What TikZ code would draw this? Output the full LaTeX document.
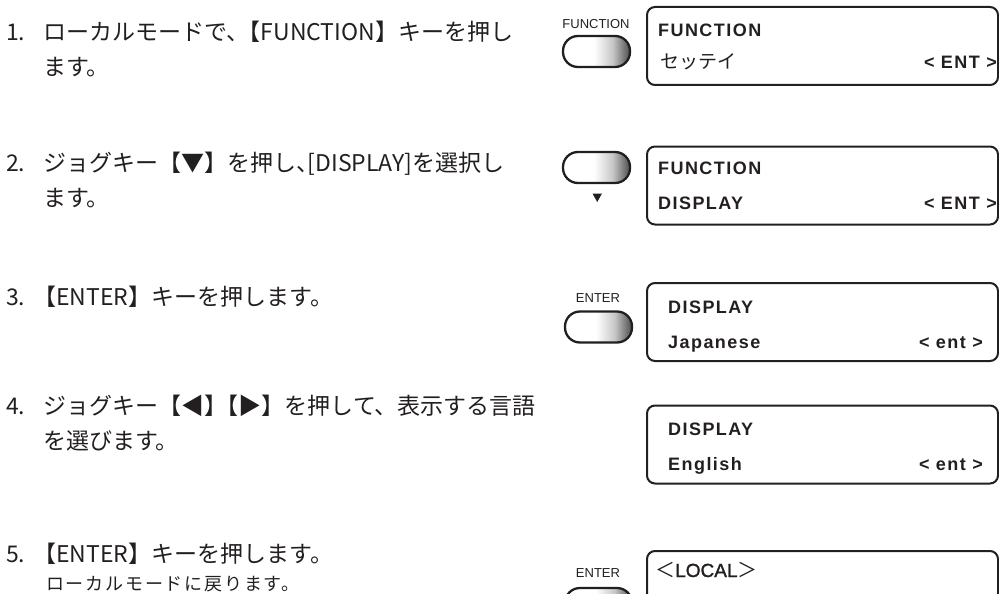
\documentclass[tikz,border=0pt]{standalone}
\usepackage{fontspec}
\setmainfont{Liberation Sans}
\newfontfamily\jp{Noto Sans CJK JP}
\newfontfamily\jpm{Noto Sans CJK JP}[LetterSpace=10]
\newfontfamily\lcd{Liberation Sans}[LetterSpace=8]
\newfontfamily\lab{Liberation Sans}
\newfontfamily\labb{Liberation Sans}[FakeBold=1.3]
\pgfdeclarehorizontalshading{btnshade}{100bp}{color(0bp)=(white); color(25bp)=(white); color(48bp)=(white); color(62bp)=(black!22); color(75bp)=(black!70); color(100bp)=(black!70)}
\definecolor{ink}{HTML}{231F20}
\newcommand{\hw}{\hspace{-0.5em}}
\tikzset{
  jtext/.style={anchor=base west, inner sep=0pt, text=ink, font=\jp\fontsize{23}{28}\selectfont},
  jsmall/.style={anchor=base west, inner sep=0pt, text=ink, font=\jpm\fontsize{18}{22}\selectfont},
  lcdtext/.style={anchor=base west, inner sep=0pt, text=ink, font=\lcd\bfseries\fontsize{18}{22}\selectfont},
  lcdright/.style={anchor=base east, inner sep=0pt, text=ink, font=\lcd\bfseries\fontsize{18}{22}\selectfont},
  keylabel/.style={anchor=base, inner sep=0pt, text=ink, font=\lab\fontsize{13}{15}\selectfont},
  lcdbox/.style={draw=ink, line width=2pt, rounded corners=8pt, minimum width=351pt, minimum height=78pt, inner sep=0pt},
  keybtn/.style={draw=ink, line width=2.3pt, rounded corners=15pt, shading=btnshade, minimum width=67pt, minimum height=31pt, inner sep=0pt},
}
\begin{document}
\begin{tikzpicture}[x=1pt,y=-1pt]
\useasboundingbox (0,0) rectangle (999,594);
\clip (0,0) rectangle (999,594);

% left column text
\node[jtext] (n1) at (6,41) {1.};
\node[jtext] (t1a) at (43,41) {ローカルモードで、\hw【FUNCTION】キーを押し};
\node[jtext] (t1b) at (43,76) {ます。};
\node[jtext] (n2) at (6,171) {2.};
\node[jtext] (t2a) at (43,171) {ジョグキー【▼】を押し、\hw[DISPLAY]を選択し};
\node[jtext] (t2b) at (43,206) {ます。};
\node[jtext] (n3) at (6,305) {3.};
\node[jtext] (t3a) at (33,305) {【ENTER】キーを押します。};
\node[jtext] (n4) at (6,414) {4.};
\node[jtext] (t4a) at (43,414) {ジョグキー【◀】\hw【▶】を押して、表示する言語};
\node[jtext] (t4b) at (43,449) {を選びます。};
\node[jtext] (n5) at (6,562) {5.};
\node[jtext] (t5a) at (33,562) {【ENTER】キーを押します。};
\node[jsmall] (t5b) at (46,590) {ローカルモードに戻ります。};

% keys
\node[keylabel] (k1l) at (596,28.7) {FUNCTION};
\node[keybtn] (k1) at (596.5,51.5) {};
\node[keybtn] (k2) at (596.5,167.5) {};
\fill[ink] (592.5,193.5) -- (602,193.5) -- (597.25,202) -- cycle;
\node[keylabel] (k3l) at (598,302.7) {ENTER};
\node[keybtn] (k3) at (598.5,327) {};
\node[keylabel] (k5l) at (598,577.7) {ENTER};
\node[keybtn] (k5) at (598.5,603.5) {};

% LCD boxes
\node[lcdbox] (d1) at (822.5,46) {};
\node[lcdtext] (d1a) at (658,36.5) {FUNCTION};
\node[anchor=base west, inner sep=0pt, text=ink, font=\jp\fontsize{19}{22}\selectfont] (d1b) at (660,69) {セッテイ};
\node[lcdright] (d1c) at (997,68.5) {< ENT >};

\node[lcdbox] (d2) at (822.5,185.5) {};
\node[lcdtext] (d2a) at (658,174.5) {FUNCTION};
\node[lcdtext] (d2b) at (658,209.5) {DISPLAY};
\node[lcdright] (d2c) at (997,209.5) {< ENT >};

\node[lcdbox] (d3) at (822.5,322) {};
\node[lcdtext] (d3a) at (668,313.5) {DISPLAY};
\node[lcdtext] (d3b) at (668,348) {Japanese};
\node[lcdright] (d3c) at (983,348) {< ent >};

\node[lcdbox] (d4) at (822.5,444.5) {};
\node[lcdtext] (d4a) at (668,435.5) {DISPLAY};
\node[lcdtext] (d4b) at (668,470) {English};
\node[lcdright] (d4c) at (983,470) {< ent >};

\node[lcdbox] (d5) at (822.5,590) {};
\node[anchor=base west, inner sep=0pt, text=ink] (d5a) at (655,577) {\jp\fontsize{20}{22}\selectfont ＜\labb\fontsize{19}{22}\selectfont LOCAL\jp\fontsize{20}{22}\selectfont ＞};
\end{tikzpicture}
\end{document}
